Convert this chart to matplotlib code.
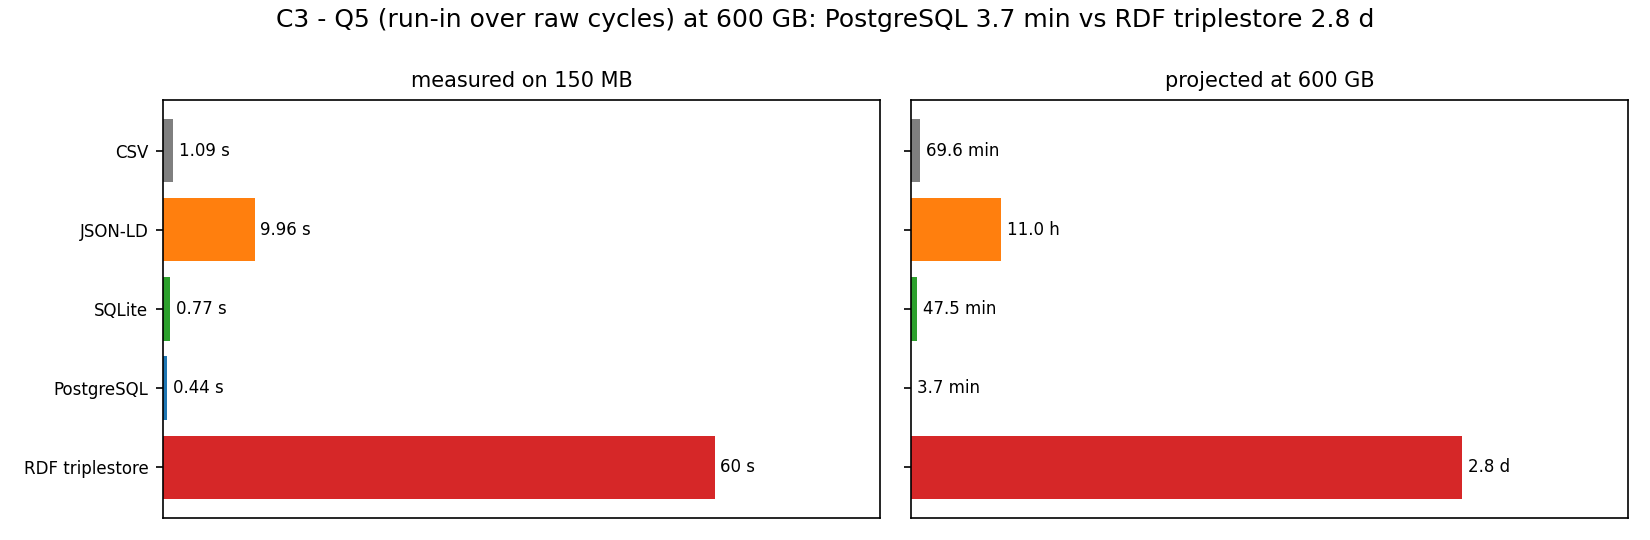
import matplotlib
matplotlib.use("Agg")
import matplotlib.pyplot as plt

plt.rcParams["font.family"] = ["DejaVu Sans"]

# systems, top to bottom
systems = ["CSV", "JSON-LD", "SQLite", "PostgreSQL", "RDF triplestore"]
colors = ["#7f7f7f", "#ff7f0e", "#2ca02c", "#1f77b4", "#d62728"]

# measured seconds on 150 MB
measured_s = [1.09, 9.96, 0.77, 0.44, 60]
measured_labels = ["1.09 s", "9.96 s", "0.77 s", "0.44 s", "60 s"]

# projected seconds at 600 GB
projected_s = [69.6 * 60, 11.0 * 3600, 47.5 * 60, 3.7 * 60, 2.8 * 86400]
projected_labels = ["69.6 min", "11.0 h", "47.5 min", "3.7 min", "2.8 d"]

fig, axes = plt.subplots(1, 2, figsize=(11, 3.6), dpi=150, sharey=True)
fig.subplots_adjust(left=0.0988, right=0.9866, top=0.815, bottom=0.041, wspace=0.043)

panels = [
    (axes[0], measured_s, measured_labels, "measured on 150 MB"),
    (axes[1], projected_s, projected_labels, "projected at 600 GB"),
]
for ax, vals, labels, title in panels:
    ypos = list(range(len(systems)))
    ax.barh(ypos, vals, color=colors, height=0.8)
    vmax = max(vals)
    for y, v, lab in zip(ypos, vals, labels):
        ax.text(v + vmax * 0.01, y, lab, va="center", ha="left", fontsize=8)
    ax.set_xlim(0, vmax * 1.3)
    ax.set_xticks([])
    ax.set_title(title, fontsize=10)

axes[0].set_yticks(range(len(systems)))
axes[0].set_yticklabels(systems, fontsize=8)
axes[0].invert_yaxis()
axes[1].tick_params(axis="y", labelleft=False)

fig.suptitle("C3 - Q5 (run-in over raw cycles) at 600 GB: PostgreSQL 3.7 min vs RDF triplestore 2.8 d",
             fontsize=12, y=0.985)

fig.savefig("out.png")
